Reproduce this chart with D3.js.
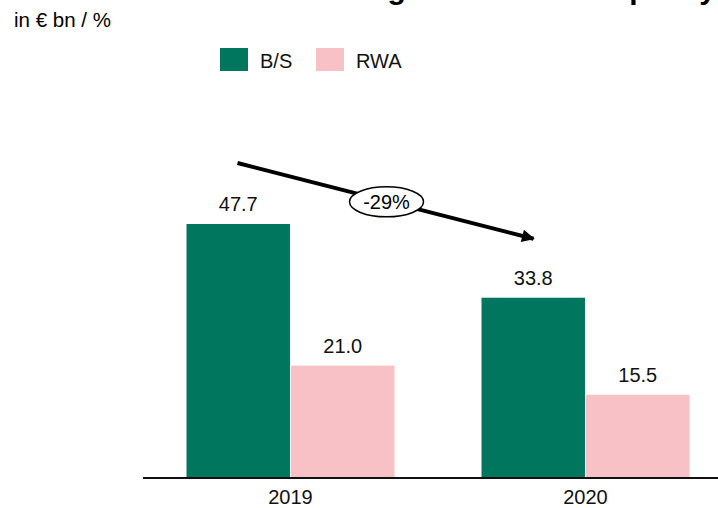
<!DOCTYPE html>
<html>
<head>
<meta charset="utf-8">
<script src="https://cdn.jsdelivr.net/npm/d3@7"></script>
<style>
  body { margin: 0; background: #fff; }
  text { font-family: Arial, "Liberation Sans", sans-serif; }
</style>
</head>
<body>
<div id="chart"></div>
<script>
// data
const years = ["2019", "2020"];
const seriesNames = ["B/S", "RWA"];
const bsValues = [47.7, 33.8];
const rwaValues = [21.0, 15.5];
const changeLabel = "-29%";

const colors = { "B/S": "#00765f", "RWA": "#f7c1c6" };

const width = 718;
const height = 508;

const svg = d3
  .select("#chart")
  .append("svg")
  .attr("width", width)
  .attr("height", height);

// cut-off title at the very top (only descenders visible)
svg
  .append("text")
  .attr("x", 716)
  .attr("y", -1)
  .attr("text-anchor", "end")
  .style("font-weight", "bold")
  .style("font-size", "30px")
  .text("Strong reduction of capacity");

svg
  .append("text")
  .attr("x", 14)
  .attr("y", 27)
  .style("font-size", "20.5px")
  .text("in € bn / %");

// scales
const x = d3
  .scaleBand()
  .domain(years)
  .range([143, 733])
  .paddingInner(0.295)
  .paddingOuter(0.1475);

const xSub = d3
  .scaleBand()
  .domain(seriesNames)
  .range([0, x.bandwidth()])
  .paddingInner(0.01);

const y = d3.scaleLinear().domain([0, 47.7]).range([477, 224]);

const data = [];
years.forEach((yr, i) => {
  data.push({ year: yr, series: "B/S", value: bsValues[i] });
  data.push({ year: yr, series: "RWA", value: rwaValues[i] });
});

// bars
svg
  .selectAll(".bar")
  .data(data)
  .join("rect")
  .attr("class", "bar")
  .attr("x", (d) => x(d.year) + xSub(d.series))
  .attr("y", (d) => y(d.value))
  .attr("width", xSub.bandwidth())
  .attr("height", (d) => y(0) - y(d.value))
  .style("fill", (d) => colors[d.series]);

// value labels
svg
  .selectAll(".val")
  .data(data)
  .join("text")
  .attr("class", "val")
  .attr("x", (d) => x(d.year) + xSub(d.series) + xSub.bandwidth() / 2)
  .attr("y", (d) => y(d.value) - 13)
  .attr("text-anchor", "middle")
  .style("font-size", "20px")
  .style("fill", "#111")
  .text((d) => d.value.toFixed(1));

// x axis
const axis = svg
  .append("g")
  .attr("transform", "translate(0," + y(0) + ")")
  .call(d3.axisBottom(x).tickSize(0).tickPadding(13));
axis.select(".domain").remove();
axis
  .append("line")
  .attr("x1", 143)
  .attr("x2", 718)
  .attr("y1", 1)
  .attr("y2", 1)
  .style("stroke", "#111")
  .style("stroke-width", 2);
axis
  .selectAll("text")
  .style("font-size", "20px")
  .style("fill", "#111")
  .style("font-family", "Arial, 'Liberation Sans', sans-serif");

// legend
const legend = svg
  .append("g")
  .selectAll("g")
  .data(seriesNames)
  .join("g")
  .attr("transform", (d, i) => "translate(" + (220 + i * 96) + ",48)");
legend
  .append("rect")
  .attr("width", 28)
  .attr("height", 23)
  .style("fill", (d) => colors[d]);
legend
  .append("text")
  .attr("x", 40)
  .attr("y", 20)
  .style("font-size", "20px")
  .style("fill", "#111")
  .text((d) => d);

// trend arrow
svg
  .append("defs")
  .append("marker")
  .attr("id", "head")
  .attr("viewBox", "0 0 10 10")
  .attr("refX", 9)
  .attr("refY", 5)
  .attr("markerWidth", 4.5)
  .attr("markerHeight", 3.2)
  .attr("markerUnits", "strokeWidth")
  .attr("orient", "auto")
  .append("path")
  .attr("d", "M0,0 L10,5 L0,10 Z")
  .style("fill", "#000");

const ax1 = x("2019") + 51;
const ay1 = y(bsValues[0]) - 61;
const ax2 = x("2020") + 52;
const ay2 = y(bsValues[1]) - 59;

svg
  .append("line")
  .attr("x1", ax1)
  .attr("y1", ay1)
  .attr("x2", ax2)
  .attr("y2", ay2)
  .style("stroke", "#000")
  .style("stroke-width", 4)
  .attr("marker-end", "url(#head)");

const cx = (ax1 + ax2) / 2 + 1;
const cy = (ay1 + ay2) / 2 + 1;
svg
  .append("ellipse")
  .attr("cx", cx)
  .attr("cy", cy)
  .attr("rx", 37)
  .attr("ry", 15)
  .style("fill", "#fff")
  .style("stroke", "#000")
  .style("stroke-width", 1.5);
svg
  .append("text")
  .attr("x", cx)
  .attr("y", cy + 7)
  .attr("text-anchor", "middle")
  .style("font-size", "20px")
  .text(changeLabel);
</script>
</body>
</html>
